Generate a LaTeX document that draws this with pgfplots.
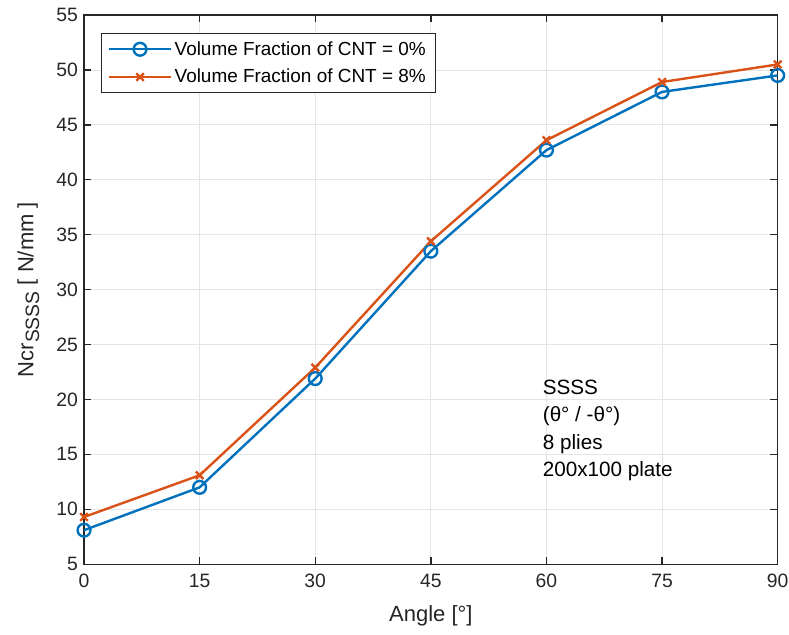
\documentclass[border=0pt]{standalone}
\usepackage{pgfplots}
\pgfplotsset{compat=1.18}
\usepackage{fontspec}
\setmainfont{Liberation Sans}
\definecolor{mblue}{RGB}{0,114,189}
\definecolor{morange}{RGB}{217,83,25}
\definecolor{axcol}{RGB}{38,38,38}
\begin{document}
\begin{tikzpicture}
\begin{axis}[
  name=ax,
  scale only axis,
  width=520pt, height=411.75pt,
  xmin=0, xmax=90, ymin=5, ymax=55,
  xtick={0,15,30,45,60,75,90},
  ytick={5,10,...,55},
  grid=major,
  major grid style={color=black!10, line width=0.6pt},
  axis line style={color=axcol, line width=1pt},
  tick style={color=axcol, line width=1pt},
  major tick length=5.5pt,
  tick align=inside,
  ticklabel style={font=\fontsize{14.5}{16}\selectfont, color=axcol},
  xticklabel style={yshift=-4pt},
  yticklabel style={xshift=-1pt},
  /pgf/number format/assume math mode=true,
  xlabel={Angle [°]},
  ylabel={Ncr\raisebox{-0.5ex}{\fontsize{14.5}{16}\selectfont SSSS} [ N/mm ]},
  label style={font=\fontsize{16.5}{18}\selectfont, color=axcol},
  xlabel style={yshift=-6pt},
  ylabel style={yshift=6pt},
  legend style={at={(rel axis cs:0,1)}, xshift=12.75pt, yshift=-13.5pt, anchor=north west,
    draw=axcol, line width=0.6pt, font=\fontsize{14.2}{16}\selectfont, inner xsep=5pt, inner ysep=4pt, row sep=5pt, text=black},
  legend cell align=left,
  legend image code/.code={\draw[#1] (0cm,0cm) -- (1.62cm,0cm); \draw[#1, mark repeat=2, mark phase=2] plot coordinates {(0cm,0cm) (0.81cm,0cm) (1.62cm,0cm)};},
]
\addplot[color=mblue, line width=1.8pt, mark=o, mark size=4.8pt, mark options={line width=1.8pt}]
  coordinates {(0,8.1) (15,12.0) (30,21.9) (45,33.5) (60,42.7) (75,48.0) (90,49.5)};
\addlegendentry{Volume Fraction of CNT = 0\%}
\addplot[color=morange, line width=1.8pt, mark=x, mark size=4pt, mark options={line width=1.8pt}]
  coordinates {(0,9.3) (15,13.1) (30,22.9) (45,34.4) (60,43.6) (75,48.9) (90,50.5)};
\addlegendentry{Volume Fraction of CNT = 8\%}
\node[anchor=north west, align=left, inner sep=0pt, font=\fontsize{15.5}{20.5}\selectfont, text=black] at (axis cs:59.5,21.8) {SSSS\\(θ° / -θ°)\\8 plies\\200x100 plate};
\end{axis}
\pgfresetboundingbox
\path (ax.south west) ++(-63pt,-52.5pt) coordinate (bl);
\path (ax.north east) ++(8.5pt,11.25pt) coordinate (tr);
\useasboundingbox (bl) rectangle (tr);
\end{tikzpicture}
\end{document}
